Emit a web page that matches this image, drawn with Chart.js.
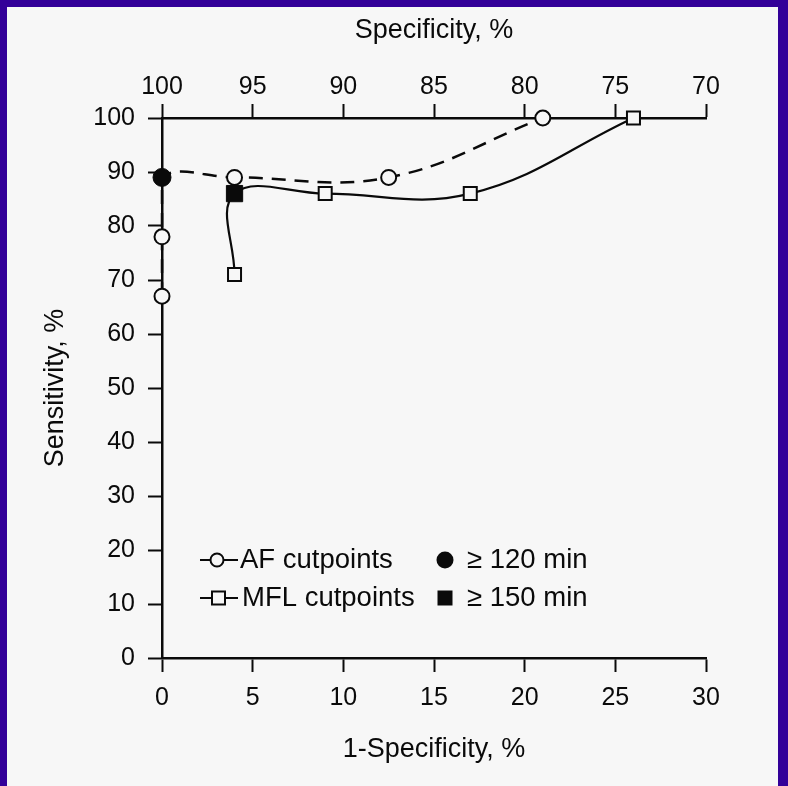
<!DOCTYPE html>
<html>
<head>
<meta charset="utf-8">
<title>Sensitivity vs 1-Specificity</title>
<script src="https://cdn.jsdelivr.net/npm/chart.js@4.4.1/dist/chart.umd.min.js"></script>
<style>
  html, body { margin: 0; padding: 0; }
  body { width: 788px; height: 786px; background: #330099; position: relative; overflow: hidden; }
  #panel { position: absolute; left: 7px; top: 7px; right: 10px; bottom: 0; background: #f7f7f7; }
  #chart { position: absolute; left: 0; top: 0; }
</style>
</head>
<body>
<div id="panel"></div>
<canvas id="chart" width="788" height="786"></canvas>
<script>
// AF cutpoints (open circles, dashed line)
const afX = [0, 0, 0, 4, 12.5, 21];
const afY = [67, 78, 89, 89, 89, 100];
// MFL cutpoints (open squares, solid line)
const mflX = [4, 4, 9, 17, 26];
const mflY = [71, 86, 86, 86, 100];
// highlighted cutpoints
const min120X = [0];
const min120Y = [89];
const min150X = [4];
const min150Y = [86];

const legendLabels = ['AF cutpoints', 'MFL cutpoints', '\u2265 120 min', '\u2265 150 min'];

const INK = '#0a0a0a';
const BG = '#f7f7f7';
const FONT = '"Liberation Sans", Arial, Helvetica, sans-serif';

function toPoints(xs, ys) {
    return xs.map((x, i) => ({ x: x, y: ys[i] }));
}

// legend drawn inside the plot, two columns
const legendPlugin = {
    id: 'cornerLegend',
    afterDraw(chart) {
        const ctx = chart.ctx;
        const area = chart.chartArea;
        const x0 = area.left + 38;
        const rows = [area.bottom - 98, area.bottom - 60];
        ctx.save();
        ctx.strokeStyle = INK;
        ctx.fillStyle = INK;
        ctx.lineWidth = 2;
        ctx.font = '27.5px ' + FONT;
        ctx.textBaseline = 'middle';

        // -o- AF cutpoints
        ctx.beginPath();
        ctx.moveTo(x0, rows[0]);
        ctx.lineTo(x0 + 38, rows[0]);
        ctx.stroke();
        ctx.beginPath();
        ctx.arc(x0 + 17, rows[0], 6.5, 0, Math.PI * 2);
        ctx.fillStyle = BG;
        ctx.fill();
        ctx.stroke();
        ctx.fillStyle = INK;
        ctx.fillText(legendLabels[0], x0 + 40, rows[0]);

        // -[]- MFL cutpoints
        ctx.beginPath();
        ctx.moveTo(x0, rows[1]);
        ctx.lineTo(x0 + 38, rows[1]);
        ctx.stroke();
        ctx.fillStyle = BG;
        ctx.fillRect(x0 + 12, rows[1] - 6.5, 13, 13);
        ctx.strokeRect(x0 + 12, rows[1] - 6.5, 13, 13);
        ctx.fillStyle = INK;
        ctx.fillText(legendLabels[1], x0 + 42, rows[1]);

        // filled markers
        const x1 = area.left + 283;
        ctx.beginPath();
        ctx.arc(x1, rows[0], 8.5, 0, Math.PI * 2);
        ctx.fill();
        ctx.fillText(legendLabels[2], x1 + 22, rows[0]);
        ctx.fillRect(x1 - 7.5, rows[1] - 7.5, 15, 15);
        ctx.fillText(legendLabels[3], x1 + 22, rows[1]);
        ctx.restore();
    }
};

const tickFont = { family: FONT, size: 25 };
const titleFont = { family: FONT, size: 27 };

new Chart(document.getElementById('chart'), {
    type: 'scatter',
    data: {
        datasets: [
            {
                label: legendLabels[2],
                data: toPoints(min120X, min120Y),
                pointStyle: 'circle',
                pointRadius: 9,
                pointBackgroundColor: INK,
                pointBorderColor: INK,
                pointBorderWidth: 1,
                showLine: false,
                clip: false,
                order: 0
            },
            {
                label: legendLabels[3],
                data: toPoints(min150X, min150Y),
                pointStyle: 'rect',
                pointRadius: 11.5,
                pointBackgroundColor: INK,
                pointBorderColor: INK,
                pointBorderWidth: 1,
                showLine: false,
                clip: false,
                order: 0
            },
            {
                label: legendLabels[0],
                data: toPoints(afX, afY),
                showLine: true,
                tension: 0.4,
                borderColor: INK,
                borderWidth: 2.5,
                borderDash: [14, 9],
                pointStyle: 'circle',
                pointRadius: 7.5,
                pointBackgroundColor: BG,
                pointBorderColor: INK,
                pointBorderWidth: 2,
                clip: false,
                order: 1
            },
            {
                label: legendLabels[1],
                data: toPoints(mflX, mflY),
                showLine: true,
                tension: 0.4,
                borderColor: INK,
                borderWidth: 2.2,
                pointStyle: 'rect',
                pointRadius: 9.2,
                pointBackgroundColor: BG,
                pointBorderColor: INK,
                pointBorderWidth: 2,
                clip: false,
                order: 1
            }
        ]
    },
    options: {
        responsive: false,
        animation: false,
        devicePixelRatio: 1,
        layout: { padding: { left: 0, right: 82, top: 0, bottom: 0 } },
        plugins: {
            legend: { display: false },
            tooltip: { enabled: false }
        },
        scales: {
            x: {
                type: 'linear',
                position: 'bottom',
                min: 0,
                max: 30,
                afterFit: (s) => { s.height = 128; },
                ticks: { stepSize: 5, color: INK, font: tickFont, padding: 11, maxRotation: 0 },
                grid: { drawOnChartArea: false, tickLength: 14, tickWidth: 2, tickColor: INK },
                border: { color: INK, width: 2.5 },
                title: { display: true, text: '1-Specificity, %', color: INK, font: titleFont, padding: { top: 0, bottom: 20 } }
            },
            x2: {
                type: 'linear',
                axis: 'x',
                position: 'top',
                min: 70,
                max: 100,
                reverse: true,
                afterFit: (s) => { s.height = 118; },
                ticks: { stepSize: 5, color: INK, font: tickFont, padding: 2, maxRotation: 0 },
                grid: { drawOnChartArea: false, tickLength: 14, tickWidth: 2, tickColor: INK },
                border: { color: INK, width: 2.5 },
                title: { display: true, text: 'Specificity, %', color: INK, font: titleFont, padding: { top: 14, bottom: 0 } }
            },
            y: {
                type: 'linear',
                position: 'left',
                min: 0,
                max: 100,
                afterFit: (s) => { s.width = 162; },
                ticks: { stepSize: 10, color: INK, font: tickFont, padding: 13 },
                grid: { drawOnChartArea: false, tickLength: 14, tickWidth: 2, tickColor: INK },
                border: { color: INK, width: 2.5 },
                title: { display: true, text: 'Sensitivity, %', color: INK, font: titleFont, padding: { top: 39, bottom: 0 } }
            }
        }
    },
    plugins: [legendPlugin]
});
</script>
</body>
</html>
